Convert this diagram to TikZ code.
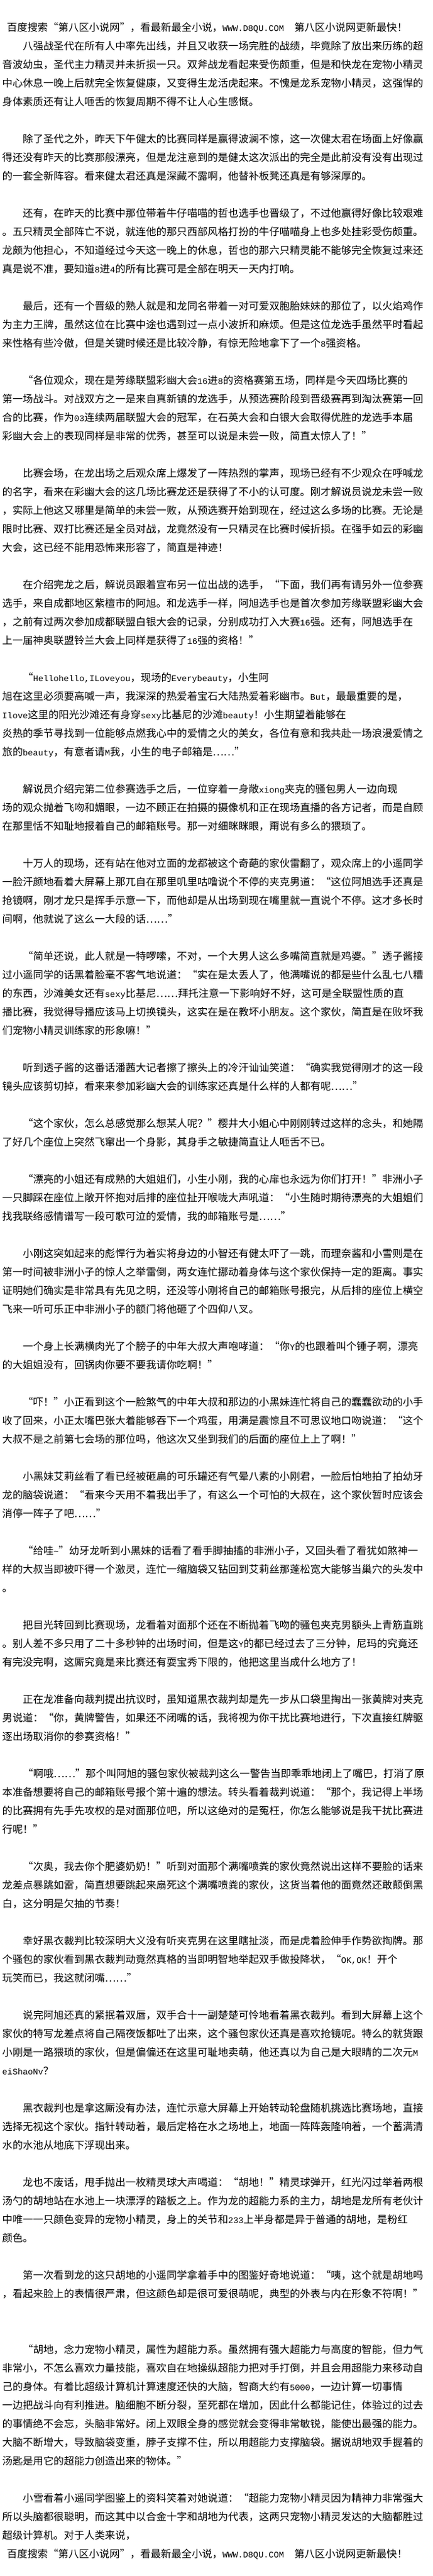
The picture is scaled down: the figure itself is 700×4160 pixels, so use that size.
\documentclass[tikz,border=0pt]{standalone}
\usepackage{fontspec}
\setmainfont{Noto Sans CJK SC}
\newfontfamily\latf{Liberation Mono}
\newcommand\Lt[1]{{\latf\fontsize{13.8}{13.8}\selectfont #1}}
\newcommand\oq{\makebox[16.6pt][r]{“}}
\newcommand\cq{\makebox[16.6pt][l]{”}}
\def\Ni{36.7}
\def\No{3.5}
\def\Nh{11}
\newcommand\TL[3]{\node[ln] (l#1) at ({#2},{-(44+(#1-1)*30+6.3)}) {#3};}
\tikzset{ln/.style={anchor=base west,inner sep=0pt,text=black,font=\fontsize{16.6}{20}\selectfont}}
\begin{document}
\begin{tikzpicture}[x=1pt,y=1pt]
\useasboundingbox (0,0) rectangle (700,-4160);
\fill[white] (0,0) rectangle (700,-4160);
\TL{1}{\Nh}{百度搜索\oq 第八区小说网\cq ，看最新最全小说，\Lt{WWW.D8QU.COM}\hspace{16.6pt}第八区小说网更新最快！}
\TL{2}{\Ni}{八强战圣代在所有人中率先出线，并且又收获一场完胜的战绩，毕竟除了放出来历练的超}
\TL{3}{\No}{音波幼虫，圣代主力精灵并未折损一只。双斧战龙看起来受伤颇重，但是和快龙在宠物小精灵}
\TL{4}{\No}{中心休息一晚上后就完全恢复健康，又变得生龙活虎起来。不愧是龙系宠物小精灵，这强悍的}
\TL{5}{\No}{身体素质还有让人咂舌的恢复周期不得不让人心生感慨。}
\TL{7}{\Ni}{除了圣代之外，昨天下午健太的比赛同样是赢得波澜不惊，这一次健太君在场面上好像赢}
\TL{8}{\No}{得还没有昨天的比赛那般漂亮，但是龙注意到的是健太这次派出的完全是此前没有没有出现过}
\TL{9}{\No}{的一套全新阵容。看来健太君还真是深藏不露啊，他替补板凳还真是有够深厚的。}
\TL{11}{\Ni}{还有，在昨天的比赛中那位带着牛仔喵喵的哲也选手也晋级了，不过他赢得好像比较艰难}
\TL{12}{\No}{。五只精灵全部阵亡不说，就连他的那只西部风格打扮的牛仔喵喵身上也多处挂彩受伤颇重。}
\TL{13}{\No}{龙颇为他担心，不知道经过今天这一晚上的休息，哲也的那六只精灵能不能够完全恢复过来还}
\TL{14}{\No}{真是说不准，要知道\Lt{8}进\Lt{4}的所有比赛可是全部在明天一天内打响。}
\TL{16}{\Ni}{最后，还有一个晋级的熟人就是和龙同名带着一对可爱双胞胎妹妹的那位了，以火焰鸡作}
\TL{17}{\No}{为主力王牌，虽然这位在比赛中途也遇到过一点小波折和麻烦。但是这位龙选手虽然平时看起}
\TL{18}{\No}{来性格有些冷傲，但是关键时候还是比较冷静，有惊无险地拿下了一个\Lt{8}强资格。}
\TL{20}{\Ni}{\oq 各位观众，现在是芳缘联盟彩幽大会\Lt{16}进\Lt{8}的资格赛第五场，同样是今天四场比赛的}
\TL{21}{\No}{第一场战斗。对战双方之一是来自真新镇的龙选手，从预选赛阶段到晋级赛再到淘汰赛第一回}
\TL{22}{\No}{合的比赛，作为\Lt{03}连续两届联盟大会的冠军，在石英大会和白银大会取得优胜的龙选手本届}
\TL{23}{\No}{彩幽大会上的表现同样是非常的优秀，甚至可以说是未尝一败，简直太惊人了！\cq}
\TL{25}{\Ni}{比赛会场，在龙出场之后观众席上爆发了一阵热烈的掌声，现场已经有不少观众在呼喊龙}
\TL{26}{\No}{的名字，看来在彩幽大会的这几场比赛龙还是获得了不小的认可度。刚才解说员说龙未尝一败}
\TL{27}{\No}{，实际上他这又哪里是简单的未尝一败，从预选赛开始到现在，经过这么多场的比赛。无论是}
\TL{28}{\No}{限时比赛、双打比赛还是全员对战，龙竟然没有一只精灵在比赛时候折损。在强手如云的彩幽}
\TL{29}{\No}{大会，这已经不能用恐怖来形容了，简直是神迹！}
\TL{31}{\Ni}{在介绍完龙之后，解说员跟着宣布另一位出战的选手，\oq 下面，我们再有请另外一位参赛}
\TL{32}{\No}{选手，来自成都地区紫檀市的阿旭。和龙选手一样，阿旭选手也是首次参加芳缘联盟彩幽大会}
\TL{33}{\No}{，之前有过两次参加成都联盟白银大会的记录，分别成功打入大赛\Lt{16}强。还有，阿旭选手在}
\TL{34}{\No}{上一届神奥联盟铃兰大会上同样是获得了\Lt{16}强的资格！\cq}
\TL{36}{\Ni}{\oq\Lt{Hellohello,ILoveyou}，现场的\Lt{Everybeauty}，小生阿}
\TL{37}{\No}{旭在这里必须要高喊一声，我深深的热爱着宝石大陆热爱着彩幽市。\Lt{But}，最最重要的是，}
\TL{38}{\No}{\Lt{Ilove}这里的阳光沙滩还有身穿\Lt{sexy}比基尼的沙滩\Lt{beauty}！小生期望着能够在}
\TL{39}{\No}{炎热的季节寻找到一位能够点燃我心中的爱情之火的美女，各位有意和我共赴一场浪漫爱情之}
\TL{40}{\No}{旅的\Lt{beauty}，有意者请\Lt{M}我，小生的电子邮箱是……\cq}
\TL{42}{\Ni}{解说员介绍完第二位参赛选手之后，一位穿着一身敞\Lt{xiong}夹克的骚包男人一边向现}
\TL{43}{\No}{场的观众抛着飞吻和媚眼，一边不顾正在拍摄的摄像机和正在现场直播的各方记者，而是自顾}
\TL{44}{\No}{在那里恬不知耻地报着自己的邮箱账号。那一对细眯眯眼，甭说有多么的猥琐了。}
\TL{46}{\Ni}{十万人的现场，还有站在他对立面的龙都被这个奇葩的家伙雷翻了，观众席上的小遥同学}
\TL{47}{\No}{一脸汗颜地看着大屏幕上那兀自在那里叽里咕噜说个不停的夹克男道：\oq 这位阿旭选手还真是}
\TL{48}{\No}{抢镜啊，刚才龙只是挥手示意一下，而他却是从出场到现在嘴里就一直说个不停。这才多长时}
\TL{49}{\No}{间啊，他就说了这么一大段的话……\cq}
\TL{51}{\Ni}{\oq 简单还说，此人就是一特啰嗦，不对，一个大男人这么多嘴简直就是鸡婆。\cq 透子酱接}
\TL{52}{\No}{过小遥同学的话黑着脸毫不客气地说道：\oq 实在是太丢人了，他满嘴说的都是些什么乱七八糟}
\TL{53}{\No}{的东西，沙滩美女还有\Lt{sexy}比基尼……拜托注意一下影响好不好，这可是全联盟性质的直}
\TL{54}{\No}{播比赛，我觉得导播应该马上切换镜头，这实在是在教坏小朋友。这个家伙，简直是在败坏我}
\TL{55}{\No}{们宠物小精灵训练家的形象嘛！\cq}
\TL{57}{\Ni}{听到透子酱的这番话潘茜大记者擦了擦头上的冷汗讪讪笑道：\oq 确实我觉得刚才的这一段}
\TL{58}{\No}{镜头应该剪切掉，看来来参加彩幽大会的训练家还真是什么样的人都有呢……\cq}
\TL{60}{\Ni}{\oq 这个家伙，怎么总感觉那么想某人呢？\cq 樱井大小姐心中刚刚转过这样的念头，和她隔}
\TL{61}{\No}{了好几个座位上突然飞窜出一个身影，其身手之敏捷简直让人咂舌不已。}
\TL{63}{\Ni}{\oq 漂亮的小姐还有成熟的大姐姐们，小生小刚，我的心扉也永远为你们打开！\cq 非洲小子}
\TL{64}{\No}{一只脚踩在座位上敞开怀抱对后排的座位扯开喉咙大声吼道：\oq 小生随时期待漂亮的大姐姐们}
\TL{65}{\No}{找我联络感情谱写一段可歌可泣的爱情，我的邮箱账号是……\cq}
\TL{67}{\Ni}{小刚这突如起来的彪悍行为着实将身边的小智还有健太吓了一跳，而理奈酱和小雪则是在}
\TL{68}{\No}{第一时间被非洲小子的惊人之举雷倒，两女连忙挪动着身体与这个家伙保持一定的距离。事实}
\TL{69}{\No}{证明她们确实是非常具有先见之明，还没等小刚将自己的邮箱账号报完，从后排的座位上横空}
\TL{70}{\No}{飞来一听可乐正中非洲小子的额门将他砸了个四仰八叉。}
\TL{72}{\Ni}{一个身上长满横肉光了个膀子的中年大叔大声咆哮道：\oq 你\Lt{Y}的也跟着叫个锤子啊，漂亮}
\TL{73}{\No}{的大姐姐没有，回锅肉你要不要我请你吃啊！\cq}
\TL{75}{\Ni}{\oq 吓！\cq 小正看到这个一脸煞气的中年大叔和那边的小黑妹连忙将自己的蠢蠢欲动的小手}
\TL{76}{\No}{收了回来，小正太嘴巴张大着能够吞下一个鸡蛋，用满是震惊且不可思议地口吻说道：\oq 这个}
\TL{77}{\No}{大叔不是之前第七会场的那位吗，他这次又坐到我们的后面的座位上上了啊！\cq}
\TL{79}{\Ni}{小黑妹艾莉丝看了看已经被砸扁的可乐罐还有气晕八素的小刚君，一脸后怕地拍了拍幼牙}
\TL{80}{\No}{龙的脑袋说道：\oq 看来今天用不着我出手了，有这么一个可怕的大叔在，这个家伙暂时应该会}
\TL{81}{\No}{消停一阵子了吧……\cq}
\TL{83}{\Ni}{\oq 给哇\Lt{\textasciitilde}\cq 幼牙龙听到小黑妹的话看了看手脚抽搐的非洲小子，又回头看了看犹如煞神一}
\TL{84}{\No}{样的大叔当即被吓得一个激灵，连忙一缩脑袋又钻回到艾莉丝那蓬松宽大能够当巢穴的头发中}
\TL{85}{\No}{。}
\TL{87}{\Ni}{把目光转回到比赛现场，龙看着对面那个还在不断抛着飞吻的骚包夹克男额头上青筋直跳}
\TL{88}{\No}{。别人差不多只用了二十多秒钟的出场时间，但是这\Lt{Y}的都已经过去了三分钟，尼玛的究竟还}
\TL{89}{\No}{有完没完啊，这厮究竟是来比赛还有耍宝秀下限的，他把这里当成什么地方了！}
\TL{91}{\Ni}{正在龙准备向裁判提出抗议时，虽知道黑衣裁判却是先一步从口袋里掏出一张黄牌对夹克}
\TL{92}{\No}{男说道：\oq 你，黄牌警告，如果还不闭嘴的话，我将视为你干扰比赛地进行，下次直接红牌驱}
\TL{93}{\No}{逐出场取消你的参赛资格！\cq}
\TL{95}{\Ni}{\oq 啊哦……\cq 那个叫阿旭的骚包家伙被裁判这么一警告当即乖乖地闭上了嘴巴，打消了原}
\TL{96}{\No}{本准备想要将自己的邮箱账号报个第十遍的想法。转头看着裁判说道：\oq 那个，我记得上半场}
\TL{97}{\No}{的比赛拥有先手先攻权的是对面那位吧，所以这绝对的是冤枉，你怎么能够说是我干扰比赛进}
\TL{98}{\No}{行呢！\cq}
\TL{100}{\Ni}{\oq 次奥，我去你个肥婆奶奶！\cq 听到对面那个满嘴喷粪的家伙竟然说出这样不要脸的话来}
\TL{101}{\No}{龙差点暴跳如雷，简直想要跳起来扇死这个满嘴喷粪的家伙，这货当着他的面竟然还敢颠倒黑}
\TL{102}{\No}{白，这分明是欠抽的节奏！}
\TL{104}{\Ni}{幸好黑衣裁判比较深明大义没有听夹克男在这里瞎扯淡，而是虎着脸伸手作势欲掏牌。那}
\TL{105}{\No}{个骚包的家伙看到黑衣裁判动竟然真格的当即明智地举起双手做投降状，\oq\Lt{OK,OK}！开个}
\TL{106}{\No}{玩笑而已，我这就闭嘴……\cq}
\TL{108}{\Ni}{说完阿旭还真的紧抿着双唇，双手合十一副楚楚可怜地看着黑衣裁判。看到大屏幕上这个}
\TL{109}{\No}{家伙的特写龙差点将自己隔夜饭都吐了出来，这个骚包家伙还真是喜欢抢镜呢。特么的就货跟}
\TL{110}{\No}{小刚是一路猥琐的家伙，但是偏偏还在这里可耻地卖萌，他还真以为自己是大眼睛的二次元\Lt{M}}
\TL{111}{\No}{\Lt{eiShaoNv}？}
\TL{113}{\Ni}{黑衣裁判也是拿这厮没有办法，连忙示意大屏幕上开始转动轮盘随机挑选比赛场地，直接}
\TL{114}{\No}{选择无视这个家伙。指针转动着，最后定格在水之场地上，地面一阵阵轰隆响着，一个蓄满清}
\TL{115}{\No}{水的水池从地底下浮现出来。}
\TL{117}{\Ni}{龙也不废话，甩手抛出一枚精灵球大声喝道：\oq 胡地！\cq 精灵球弹开，红光闪过举着两根}
\TL{118}{\No}{汤勺的胡地站在水池上一块漂浮的踏板之上。作为龙的超能力系的主力，胡地是龙所有老伙计}
\TL{119}{\No}{中唯一一只颜色变异的宠物小精灵，身上的关节和\Lt{233}上半身都是异于普通的胡地，是粉红}
\TL{120}{\No}{颜色。}
\TL{122}{\Ni}{第一次看到龙的这只胡地的小遥同学拿着手中的图鉴好奇地说道：\oq 咦，这个就是胡地吗}
\TL{123}{\No}{，看起来脸上的表情很严肃，但这颜色却是很可爱很萌呢，典型的外表与内在形象不符啊！\cq}
\TL{126}{\Ni}{\oq 胡地，念力宠物小精灵，属性为超能力系。虽然拥有强大超能力与高度的智能，但力气}
\TL{127}{\No}{非常小，不怎么喜欢力量技能，喜欢自在地操纵超能力把对手打倒，并且会用超能力来移动自}
\TL{128}{\No}{己的身体。有着比超级计算机计算速度还快的大脑，智商大约有\Lt{5000}，一边计算一切事情}
\TL{129}{\No}{一边把战斗向有利推进。脑细胞不断分裂，至死都在增加，因此什么都能记住，体验过的过去}
\TL{130}{\No}{的事情绝不会忘，头脑非常好。闭上双眼全身的感觉就会变得非常敏锐，能使出最强的能力。}
\TL{131}{\No}{大脑不断增大，导致脑袋变重，脖子支撑不住，所以用超能力支撑脑袋。据说胡地双手握着的}
\TL{132}{\No}{汤匙是用它的超能力创造出来的物体。\cq}
\TL{134}{\Ni}{小雪看着小遥同学图鉴上的资料笑着对她说道：\oq 超能力宠物小精灵因为精神力非常强大}
\TL{135}{\No}{所以头脑都很聪明，而这其中以合金十字和胡地为代表，这两只宠物小精灵发达的大脑都胜过}
\TL{136}{\No}{超级计算机。对于人类来说，}
\TL{137}{\Nh}{百度搜索\oq 第八区小说网\cq ，看最新最全小说，\Lt{WWW.D8QU.COM}\hspace{16.6pt}第八区小说网更新最快！}
\end{tikzpicture}
\end{document}
